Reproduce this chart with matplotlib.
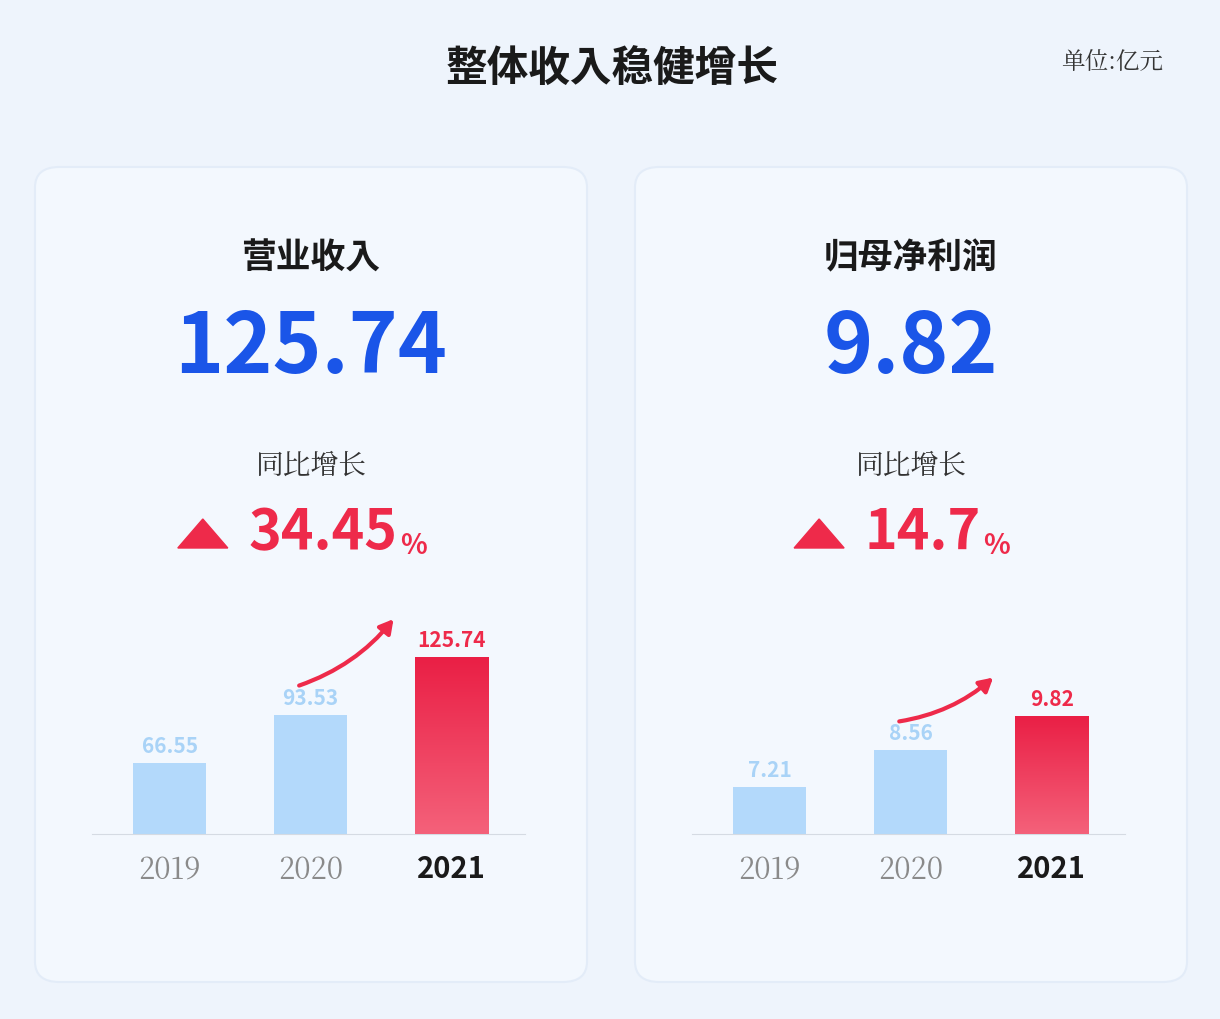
import matplotlib
matplotlib.use("Agg")
import matplotlib.pyplot as plt
from matplotlib.patches import FancyBboxPatch
from matplotlib import font_manager as fm
from matplotlib.colors import LinearSegmentedColormap
import numpy as np

cjk = None
for f in fm.findSystemFonts():
    if "CJK" in f and ("Bold" in f or cjk is None):
        if cjk is None or "Bold" in f:
            cjk = f
        if "Bold" in f:
            break
reg = None
for f in fm.findSystemFonts():
    if "CJK" in f and "Regular" in f:
        reg = f; break
if reg is None: reg = cjk
for p in [cjk, reg]:
    if p: fm.fontManager.addfont(p)
FB = fm.FontProperties(fname=cjk) if cjk else fm.FontProperties(family="Noto Sans CJK SC", weight="bold")
FR = fm.FontProperties(fname=reg) if reg else fm.FontProperties(family="Noto Sans CJK SC")

title = "整体收入稳健增长"
unit = "单位:亿元"
years = ["2019", "2020", "2021"]
panel_titles = ["营业收入", "归母净利润"]
revenue = [66.55, 93.53, 125.74]
profit = [7.21, 8.56, 9.82]
big_values = ["125.74", "9.82"]
growth = ["34.45", "14.7"]
ylims = [(27, 158), (5.48, 14.1)]

W, H = 1220, 1020
fig = plt.figure(figsize=(W/100, H/100), dpi=100)
fig.patch.set_facecolor("#eef4fc")

def fx(x): return x / W
def fy(y): return 1 - y / H

def fp(base, size):
    p = base.copy(); p.set_size(size); return p

fig.text(fx(612), fy(70), title, ha="center", va="center", fontproperties=fp(FB, 30), color="#1a1a1a")
fig.text(fx(1112), fy(62), unit, ha="center", va="center", fontproperties=fp(FR, 17), color="#333333")

blue = "#1a55e8"
red = "#ee2a4a"
lightblue = "#b3d9fb"

for i, (data, x0) in enumerate([(revenue, 35), (profit, 635)]):
    card = FancyBboxPatch((fx(x0), fy(983)), fx(552), 815/H, boxstyle="round,pad=0,rounding_size=0.02",
                          transform=fig.transFigure, facecolor="#f3f8fe", edgecolor="#e3ecf8", lw=1.5, zorder=0)
    fig.patches.append(card)
    cx = x0 + 276
    fig.text(fx(cx), fy(258), panel_titles[i], ha="center", va="center", fontproperties=fp(FB, 25), color="#1a1a1a")
    fig.text(fx(cx), fy(348), big_values[i], ha="center", va="center", fontproperties=fp(FB, 60), color=blue)
    fig.text(fx(cx), fy(466), "同比增长", ha="center", va="center", fontproperties=fp(FR, 20), color="#333333")
    t = fig.text(fx(cx + 12), fy(533), growth[i], ha="center", va="center", fontproperties=fp(FB, 40), color=red)
    fig.canvas.draw()
    bb = t.get_window_extent()
    fig.text(bb.x1 / W + 0.002, fy(546), "%", ha="left", va="center", fontproperties=fp(FB, 20), color=red)
    tri_x = bb.x0 / W - 0.058
    fig.patches.append(plt.Polygon([[tri_x, fy(549)], [tri_x + fx(50), fy(549)], [tri_x + fx(25), fy(520)]],
                                   closed=True, transform=fig.transFigure, color=red))

    ax = fig.add_axes([fx(x0 + 57), fy(835), fx(433), 235/H], zorder=3)
    ax.set_facecolor("none")
    cols = [lightblue, lightblue, red]
    bars = ax.bar(range(3), data, width=0.52, color=cols, zorder=2)
    b = bars[2]
    grad = np.linspace(0, 1, 100).reshape(-1, 1)
    cmap = LinearSegmentedColormap.from_list("g", ["#f4617a", "#ea1f45"])
    im = ax.imshow(grad, cmap=cmap, aspect="auto", origin="lower",
                   extent=[b.get_x(), b.get_x() + b.get_width(), ylims[i][0], data[2]], zorder=3)
    im.set_clip_path(b)
    ax.set_xlim(-0.55, 2.52); ax.set_ylim(*ylims[i])
    for j, v in enumerate(data):
        ax.annotate(f"{v:.2f}", (j, v), xytext=(0, 5), textcoords="offset points", ha="center", va="bottom",
                    fontproperties=fp(FB, 15), color=(red if j == 2 else "#a9d3f7"))
    rng = ylims[i][1] - ylims[i][0]
    ax.annotate("", xy=(1.6, data[2] + rng * 0.17), xytext=(0.9, data[1] + rng * 0.12),
                arrowprops=dict(arrowstyle="-|>,head_length=0.8,head_width=0.45", color=red, lw=3,
                                connectionstyle="arc3,rad=0.15"), annotation_clip=False)
    for s in ["top", "right", "left"]:
        ax.spines[s].set_visible(False)
    ax.spines["bottom"].set_color("#d5dbe3")
    ax.set_yticks([])
    ax.set_xticks(range(3))
    ax.set_xticklabels(years)
    ax.tick_params(axis="x", length=0, pad=14)
    for j, lab in enumerate(ax.get_xticklabels()):
        if j == 2:
            lab.set_fontproperties(fp(FB, 21)); lab.set_color("#1a1a1a")
        else:
            lab.set_fontproperties(fp(FR, 21)); lab.set_color("#8a8a8a")

fig.savefig("out.png", dpi=100, facecolor=fig.get_facecolor())
